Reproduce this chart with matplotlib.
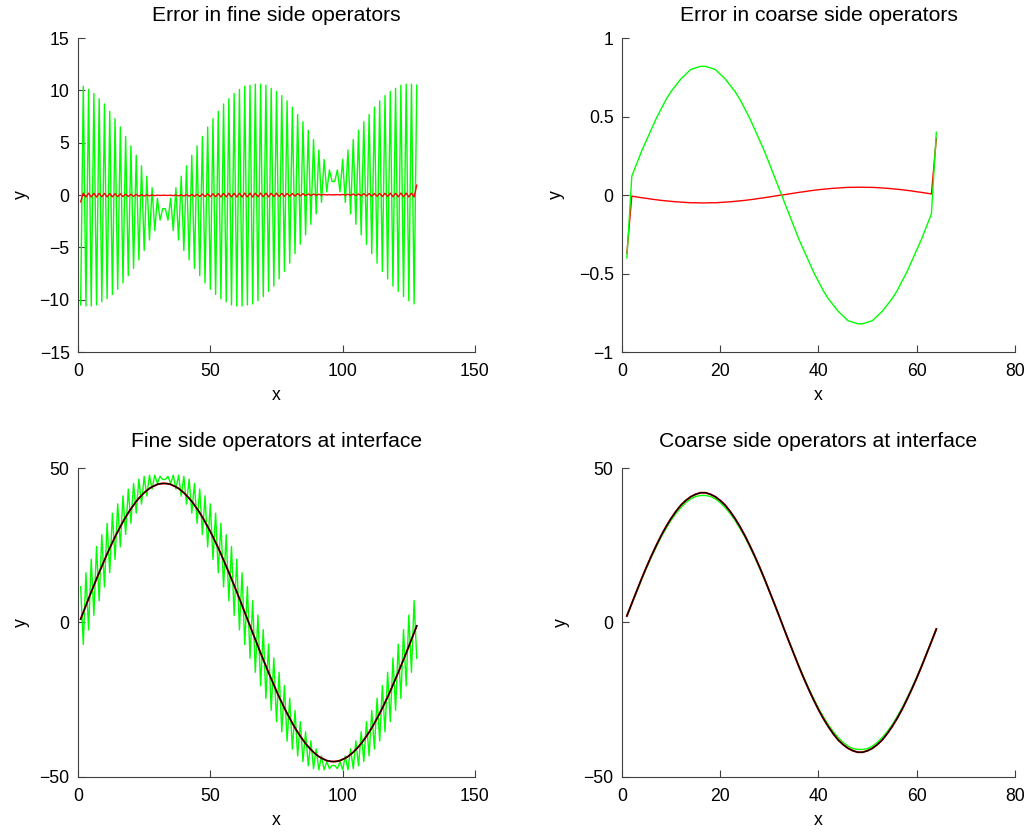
import matplotlib
matplotlib.use("Agg")
import matplotlib.pyplot as plt
from matplotlib.ticker import FuncFormatter

plt.rcParams['font.family'] = ['Liberation Sans', 'DejaVu Sans']
plt.rcParams['font.size'] = 12.7

# grid indices
x_fine = list(range(1, 129))
x_coarse = list(range(1, 65))

# error in fine side operators (green = coarse-to-fine, red = fine)
err_fine_green = [
    -10.5, 10.4, -10.6, 10.1, -10.6, 9.7, -10.5, 9.2, -10.2, 8.7, -9.9, 8.0, -9.5, 7.3, -9.0, 6.5,
    -8.4, 5.6, -7.7, 4.7, -7.0, 3.8, -6.2, 2.8, -5.3, 1.8, -4.3, 0.7, -3.4, -0.3, -2.4, -1.3,
    -1.3, -2.4, -0.3, -3.4, 0.7, -4.3, 1.8, -5.3, 2.8, -6.2, 3.8, -7.0, 4.7, -7.7, 5.6, -8.4,
    6.5, -9.0, 7.3, -9.5, 8.0, -9.9, 8.7, -10.2, 9.2, -10.5, 9.7, -10.6, 10.1, -10.6, 10.4, -10.5,
    10.5, -10.4, 10.6, -10.1, 10.6, -9.7, 10.5, -9.2, 10.2, -8.7, 9.9, -8.0, 9.5, -7.3, 9.0, -6.5,
    8.4, -5.6, 7.7, -4.7, 7.0, -3.8, 6.2, -2.8, 5.3, -1.8, 4.3, -0.7, 3.4, 0.3, 2.4, 1.3,
    1.3, 2.4, 0.3, 3.4, -0.7, 4.3, -1.8, 5.3, -2.8, 6.2, -3.8, 7.0, -4.7, 7.7, -5.6, 8.4,
    -6.5, 9.0, -7.3, 9.5, -8.0, 9.9, -8.7, 10.2, -9.2, 10.5, -9.7, 10.6, -10.1, 10.6, -10.4, 10.5,
]
err_fine_red = [
    -0.65, 0.19, -0.19, 0.18, -0.19, 0.17, -0.19, 0.17, -0.18, 0.16, -0.18, 0.14, -0.17, 0.13, -0.16, 0.12,
    -0.15, 0.10, -0.14, 0.08, -0.13, 0.07, -0.11, 0.05, -0.10, 0.03, -0.08, 0.01, -0.06, -0.01, -0.04, -0.02,
    -0.02, -0.04, -0.01, -0.06, 0.01, -0.08, 0.03, -0.10, 0.05, -0.11, 0.07, -0.13, 0.08, -0.14, 0.10, -0.15,
    0.12, -0.16, 0.13, -0.17, 0.14, -0.18, 0.16, -0.18, 0.17, -0.19, 0.17, -0.19, 0.18, -0.19, 0.19, -0.19,
    0.19, -0.19, 0.19, -0.18, 0.19, -0.17, 0.19, -0.17, 0.18, -0.16, 0.18, -0.14, 0.17, -0.13, 0.16, -0.12,
    0.15, -0.10, 0.14, -0.08, 0.13, -0.07, 0.11, -0.05, 0.10, -0.03, 0.08, -0.01, 0.06, 0.01, 0.04, 0.02,
    0.02, 0.04, 0.01, 0.06, -0.01, 0.08, -0.03, 0.10, -0.05, 0.11, -0.07, 0.13, -0.08, 0.14, -0.10, 0.15,
    -0.12, 0.16, -0.13, 0.17, -0.14, 0.18, -0.16, 0.18, -0.17, 0.19, -0.17, 0.19, -0.18, 0.19, -0.19, 0.95,
]

# error in coarse side operators
err_coarse_green = [
    -0.40, 0.12, 0.20, 0.28, 0.35, 0.42, 0.49, 0.55, 0.61, 0.66, 0.70, 0.74, 0.77, 0.80, 0.81, 0.82,
    0.82, 0.81, 0.80, 0.77, 0.74, 0.70, 0.66, 0.61, 0.55, 0.49, 0.42, 0.35, 0.28, 0.20, 0.12, 0.04,
    -0.04, -0.12, -0.20, -0.28, -0.35, -0.42, -0.49, -0.55, -0.61, -0.66, -0.70, -0.74, -0.77, -0.80, -0.81, -0.82,
    -0.82, -0.81, -0.80, -0.77, -0.74, -0.70, -0.66, -0.61, -0.55, -0.49, -0.42, -0.35, -0.28, -0.20, -0.12, 0.40,
]
err_coarse_red = [
    -0.370, -0.007, -0.012, -0.017, -0.021, -0.026, -0.030, -0.034, -0.037, -0.040, -0.043, -0.045, -0.047, -0.049, -0.049, -0.050,
    -0.050, -0.049, -0.049, -0.047, -0.045, -0.043, -0.040, -0.037, -0.034, -0.030, -0.026, -0.021, -0.017, -0.012, -0.007, -0.002,
    0.002, 0.007, 0.012, 0.017, 0.021, 0.026, 0.030, 0.034, 0.037, 0.040, 0.043, 0.045, 0.047, 0.049, 0.049, 0.050,
    0.050, 0.049, 0.049, 0.047, 0.045, 0.043, 0.040, 0.037, 0.034, 0.030, 0.026, 0.021, 0.017, 0.012, 0.007, 0.360,
]

# operators at interface, fine side
fine_exact = [
    1.1, 3.3, 5.5, 7.7, 9.9, 12.0, 14.1, 16.2, 18.2, 20.2, 22.2, 24.1, 25.9, 27.7, 29.4, 31.0,
    32.6, 34.1, 35.5, 36.8, 38.0, 39.2, 40.2, 41.1, 42.0, 42.7, 43.4, 43.9, 44.3, 44.7, 44.9, 45.0,
    45.0, 44.9, 44.7, 44.3, 43.9, 43.4, 42.7, 42.0, 41.1, 40.2, 39.2, 38.0, 36.8, 35.5, 34.1, 32.6,
    31.0, 29.4, 27.7, 25.9, 24.1, 22.2, 20.2, 18.2, 16.2, 14.1, 12.0, 9.9, 7.7, 5.5, 3.3, 1.1,
    -1.1, -3.3, -5.5, -7.7, -9.9, -12.0, -14.1, -16.2, -18.2, -20.2, -22.2, -24.1, -25.9, -27.7, -29.4, -31.0,
    -32.6, -34.1, -35.5, -36.8, -38.0, -39.2, -40.2, -41.1, -42.0, -42.7, -43.4, -43.9, -44.3, -44.7, -44.9, -45.0,
    -45.0, -44.9, -44.7, -44.3, -43.9, -43.4, -42.7, -42.0, -41.1, -40.2, -39.2, -38.0, -36.8, -35.5, -34.1, -32.6,
    -31.0, -29.4, -27.7, -25.9, -24.1, -22.2, -20.2, -18.2, -16.2, -14.1, -12.0, -9.9, -7.7, -5.5, -3.3, -1.1,
]
fine_green = [
    11.6, -7.1, 16.1, -2.4, 20.5, 2.3, 24.6, 7.0, 28.4, 11.5, 32.1, 16.1, 35.4, 20.4, 38.4, 24.5,
    41.0, 28.5, 43.2, 32.1, 45.0, 35.4, 46.4, 38.3, 47.3, 40.9, 47.7, 43.2, 47.7, 45.0, 47.3, 46.3,
    46.3, 47.3, 45.0, 47.7, 43.2, 47.7, 40.9, 47.3, 38.3, 46.4, 35.4, 45.0, 32.1, 43.2, 28.5, 41.0,
    24.5, 38.4, 20.4, 35.4, 16.1, 32.1, 11.5, 28.4, 7.0, 24.6, 2.3, 20.5, -2.4, 16.1, -7.1, 11.6,
    -11.6, 7.1, -16.1, 2.4, -20.5, -2.3, -24.6, -7.0, -28.4, -11.5, -32.1, -16.1, -35.4, -20.4, -38.4, -24.5,
    -41.0, -28.5, -43.2, -32.1, -45.0, -35.4, -46.4, -38.3, -47.3, -40.9, -47.7, -43.2, -47.7, -45.0, -47.3, -46.3,
    -46.3, -47.3, -45.0, -47.7, -43.2, -47.7, -40.9, -47.3, -38.3, -46.4, -35.4, -45.0, -32.1, -43.2, -28.5, -41.0,
    -24.5, -38.4, -20.4, -35.4, -16.1, -32.1, -11.5, -28.4, -7.0, -24.6, -2.3, -20.5, 2.4, -16.1, 7.1, -11.6,
]

# operators at interface, coarse side
coarse_exact = [
    2.1, 6.2, 10.2, 14.2, 18.0, 21.6, 25.0, 28.2, 31.1, 33.7, 36.0, 38.0, 39.5, 40.7, 41.5, 42.0,
    42.0, 41.5, 40.7, 39.5, 38.0, 36.0, 33.7, 31.1, 28.2, 25.0, 21.6, 18.0, 14.2, 10.2, 6.2, 2.1,
    -2.1, -6.2, -10.2, -14.2, -18.0, -21.6, -25.0, -28.2, -31.1, -33.7, -36.0, -38.0, -39.5, -40.7, -41.5, -42.0,
    -42.0, -41.5, -40.7, -39.5, -38.0, -36.0, -33.7, -31.1, -28.2, -25.0, -21.6, -18.0, -14.2, -10.2, -6.2, -2.1,
]
coarse_green = [
    2.5, 6.0, 10.0, 13.9, 17.6, 21.2, 24.5, 27.7, 30.5, 33.1, 35.3, 37.2, 38.8, 40.0, 40.8, 41.1,
    41.1, 40.8, 40.0, 38.8, 37.2, 35.3, 33.1, 30.5, 27.7, 24.5, 21.2, 17.6, 13.9, 10.0, 6.0, 2.0,
    -2.0, -6.0, -10.0, -13.9, -17.6, -21.2, -24.5, -27.7, -30.5, -33.1, -35.3, -37.2, -38.8, -40.0, -40.8, -41.1,
    -41.1, -40.8, -40.0, -38.8, -37.2, -35.3, -33.1, -30.5, -27.7, -24.5, -21.2, -17.6, -13.9, -10.0, -6.0, -2.5,
]

GREEN = (0, 1, 0)
RED = (1, 0, 0)
LW = 1.0

# matlab-like tick text: shortest form, real minus sign
tick_fmt = FuncFormatter(lambda v, pos: ('%g' % v).replace('-', '\u2212'))


def style(ax, title, xlim, ylim, xticks, yticks, title_pad, ylab_pad):
    ax.set_title(title, pad=title_pad)
    ax.set_xlim(*xlim)
    ax.set_ylim(*ylim)
    ax.set_xticks(xticks)
    ax.set_yticks(yticks)
    ax.yaxis.set_major_formatter(tick_fmt)
    ax.set_xlabel('x', labelpad=5)
    ax.set_ylabel('y', labelpad=ylab_pad)
    for s in ('top', 'right'):
        ax.spines[s].set_visible(False)
    for s in ('left', 'bottom'):
        ax.spines[s].set_linewidth(0.8)
        ax.spines[s].set_color('#404040')
    ax.tick_params(direction='in', length=5, width=0.8, color='#404040')
    ax.tick_params(axis='x', pad=8)
    ax.tick_params(axis='y', pad=6)


fig = plt.figure(figsize=(10.33, 8.35), dpi=100)
ax1 = fig.add_axes([0.0755, 0.5784, 0.3843, 0.3760])
ax2 = fig.add_axes([0.6021, 0.5784, 0.3804, 0.3760])
ax3 = fig.add_axes([0.0755, 0.0695, 0.3843, 0.3700])
ax4 = fig.add_axes([0.6021, 0.0695, 0.3804, 0.3700])

ax1.plot(x_fine, err_fine_green, color=GREEN, lw=LW)
ax1.plot(x_fine, err_fine_red, color=RED, lw=LW)
style(ax1, 'Error in fine side operators', (0, 150), (-15, 15),
      [0, 50, 100, 150], [-15, -10, -5, 0, 5, 10, 15], 12, 7)

ax2.plot(x_coarse, err_coarse_red, color=RED, lw=LW)
ax2.plot(x_coarse, err_coarse_green, color=GREEN, lw=LW)
style(ax2, 'Error in coarse side operators', (0, 80), (-1, 1),
      [0, 20, 40, 60, 80], [-1, -0.5, 0, 0.5, 1], 12, 10)

ax3.plot(x_fine, fine_green, color=GREEN, lw=LW)
ax3.plot(x_fine, fine_exact, color=RED, lw=LW + 0.4)
ax3.plot(x_fine, fine_exact, color='black', lw=LW)
style(ax3, 'Fine side operators at interface', (0, 150), (-50, 50),
      [0, 50, 100, 150], [-50, 0, 50], 15, 7)

ax4.plot(x_coarse, coarse_green, color=GREEN, lw=LW)
ax4.plot(x_coarse, coarse_exact, color=RED, lw=LW + 0.4)
ax4.plot(x_coarse, coarse_exact, color='black', lw=LW)
style(ax4, 'Coarse side operators at interface', (0, 80), (-50, 50),
      [0, 20, 40, 60, 80], [-50, 0, 50], 15, 10)

fig.savefig('out.png', dpi=100)
